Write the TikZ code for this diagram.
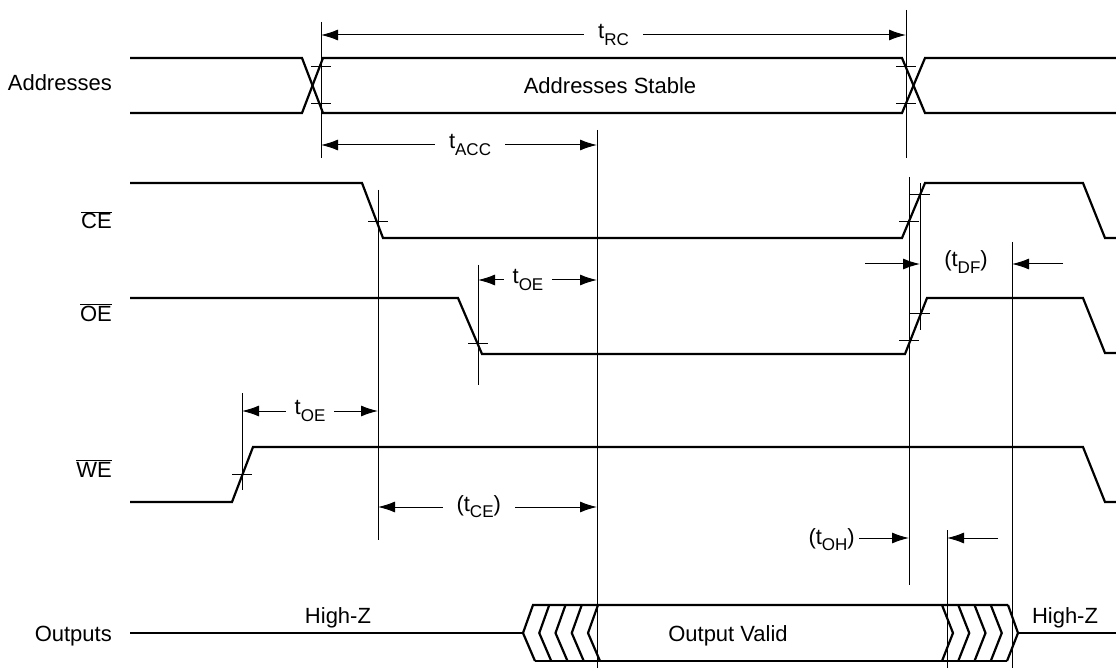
\documentclass[tikz,border=0pt]{standalone}
\usepackage{fontspec}
\setmainfont{Liberation Sans}
\usetikzlibrary{arrows.meta}
\newcommand\sbx[1]{\raisebox{-0.28em}{\fontsize{17pt}{19pt}\selectfont #1}}
\begin{document}
\begin{tikzpicture}[x=1pt,y=-1pt,
  sig/.style={line width=2.2pt, line join=miter},
  thinln/.style={line width=1pt},
  dim/.style={line width=1pt, {Latex[length=17pt,width=11pt]}-{Latex[length=17pt,width=11pt]}},
  onearrow/.style={line width=1pt, -{Latex[length=17pt,width=11pt]}},
  lbl/.style={fill=white, inner xsep=10pt, inner ysep=1pt, font=\fontsize{22pt}{26pt}\selectfont},
  txt/.style={inner sep=0pt, font=\fontsize{22pt}{26pt}\selectfont},
  tick/.style={line width=1pt}]
\useasboundingbox (0,0) rectangle (1116,668);

% ---------- left labels
\node[txt, anchor=base east] (lAddr) at (112,91) {Addresses};
\node[txt, anchor=base east] (lCE) at (112,229) {$\overline{\mbox{CE}}$};
\node[txt, anchor=base east] (lOE) at (112,321) {$\overline{\mbox{OE}}$};
\node[txt, anchor=base east] (lWE) at (112,477) {$\overline{\mbox{WE}}$};
\node[txt, anchor=base east] (lOut) at (112,641) {Outputs};

% ---------- Addresses
\draw[sig] (130,58) -- (302,58) -- (323,113) -- (902,113) -- (925,58) -- (1116,58);
\draw[sig] (130,113) -- (302,113) -- (323,58) -- (902,58) -- (925,113) -- (1116,113);
\node[txt, anchor=base] (stable) at (610,94) {Addresses Stable};

% ---------- CE
\draw[sig] (130,183) -- (362,183) -- (383,238) -- (902,238) -- (925,183) -- (1083,183) -- (1105,238) -- (1116,238);
% ---------- OE
\draw[sig] (130,298) -- (458,298) -- (482,354) -- (905,354) -- (927,298) -- (1083,298) -- (1105,353) -- (1116,353);
% ---------- WE
\draw[sig] (130,502) -- (232,502) -- (253,447) -- (1083,447) -- (1105,502) -- (1116,502);

% ---------- Outputs
\draw[sig] (130,633) -- (523,633);
\draw[sig] (535,661) -- (523,633) -- (533,605) -- (1008,605);
\draw[sig] (535,661) -- (1007,661);
\foreach \p in {539.25,555.5,571.75,588} {
  \draw[sig] (\p+10,605) -- (\p,633) -- (\p+12,661);
}
\foreach \p in {953,969.25,985.5,1001.75} {
  \draw[sig] (\p-11,605) -- (\p,633) -- (\p-11,661);
}
\draw[sig] (1008,605) -- (1018,633) -- (1007,661);
\draw[sig] (1018,633) -- (1116,633);
\node[txt, anchor=base] (hzL) at (338,623) {High-Z};
\node[txt, anchor=base] (hzR) at (1065,623) {High-Z};
\node[txt, anchor=base] (valid) at (728,641) {Output Valid};

% ---------- vertical reference lines
\coordinate (vA1) at (321,22);  \coordinate (vA2) at (321,158);
\coordinate (vB1) at (906,10);  \coordinate (vB2) at (906,158);
\coordinate (vC1) at (597,130); \coordinate (vC2) at (597,668);
\coordinate (vD1) at (378,190); \coordinate (vD2) at (378,540);
\coordinate (vE1) at (478,265); \coordinate (vE2) at (478,385);
\coordinate (vF1) at (242,393); \coordinate (vF2) at (242,490);
\coordinate (vG1) at (909,177); \coordinate (vG2) at (909,585);
\coordinate (vH1) at (920,183); \coordinate (vH2) at (920,330);
\coordinate (vI1) at (1012,242); \coordinate (vI2) at (1012,668);
\coordinate (vJ1) at (947,530); \coordinate (vJ2) at (947,668);
\foreach \v in {A,B,C,D,E,F,G,H,I,J} {\draw[thinln] (v\v1) -- (v\v2);}

% ---------- ticks
\foreach \x/\y in {321/67, 321/104, 906/67, 906/104, 378/222, 909/222, 920/195,
                   478/343, 920/313, 909/340, 242/474} {
  \draw[tick] (\x-10,\y) -- (\x+10,\y);
}

% ---------- dimension arrows
\coordinate (rcL) at (321,35);  \coordinate (rcR) at (906,35);
\draw[dim] (rcL) -- (rcR) node[lbl, midway, inner xsep=14pt] (tRC) {t\sbx{RC}};
\coordinate (accL) at (321,145); \coordinate (accR) at (597,145);
\draw[dim] (accL) -- (accR) node[lbl, pos=0.54, inner xsep=14pt] (tACC) {t\sbx{ACC}};
\coordinate (oeL) at (478,280); \coordinate (oeR) at (597,280);
\draw[dim] (oeL) -- (oeR) node[lbl, pos=0.42, inner xsep=9pt] (tOE1) {t\sbx{OE}};
\coordinate (oe2L) at (242,411); \coordinate (oe2R) at (378,411);
\draw[dim] (oe2L) -- (oe2R) node[lbl, midway, inner xsep=9pt] (tOE2) {t\sbx{OE}};
\coordinate (ceL) at (378,507); \coordinate (ceR) at (597,507);
\draw[dim] (ceL) -- (ceR) node[lbl, pos=0.46, inner xsep=14pt] (tCE) {(t\sbx{CE})};

% tDF
\coordinate (dfA) at (865,264); \coordinate (dfB) at (920,264);
\coordinate (dfC) at (1063,264); \coordinate (dfD) at (1012,264);
\draw[onearrow] (dfA) -- (dfB);
\draw[onearrow] (dfC) -- (dfD);
\node[txt] (tDF) at (966,262) {(t\sbx{DF})};

% tOH
\node[txt, anchor=east] (tOH) at (855,540) {(t\sbx{OH})};
\coordinate (ohB) at (909,538);
\coordinate (ohC) at (998,538); \coordinate (ohD) at (947,538);
\draw[onearrow] (tOH.east |- ohB) ++(4,0) coordinate (ohA) -- (ohB);
\draw[onearrow] (ohC) -- (ohD);
\end{tikzpicture}
\end{document}
